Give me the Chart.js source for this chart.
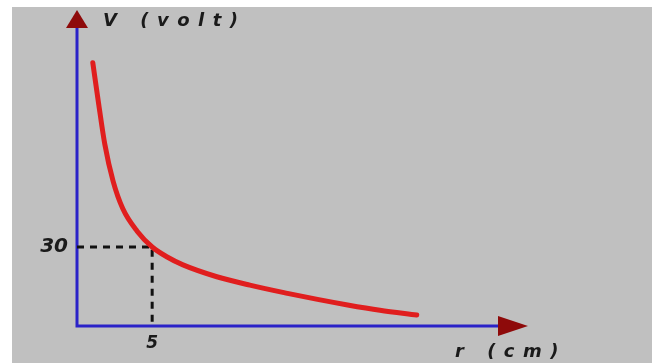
<!DOCTYPE html>
<html><head><meta charset="utf-8">
<script src="https://cdn.jsdelivr.net/npm/chart.js@4"></script>
<style>
html,body{margin:0;padding:0;background:#fff;width:657px;height:363px;overflow:hidden}
#wrap{position:absolute;left:12px;top:7px;width:640px;height:356px;background:#c0c0c0}
</style></head>
<body><div id="wrap"><canvas id="c"></canvas></div>
<script>
// Curve V(r)
const rValues = [1.05, 1.45, 1.85, 2.4, 3.05, 4.0, 5, 6, 7.05, 9.3, 11.5, 14, 16, 18, 20.15, 22.6];
const vValues = [100, 84, 69, 55, 44.5, 36, 30, 26.2, 23.2, 18.7, 15.5, 12.4, 10.1, 8.0, 6.0, 4.2];
// Marked point (r = 5 cm, V = 30 volt) with dashed guides
const guideR = [0, 5, 5];
const guideV = [30, 30, 0];
const xTicks = [5];
const yTicks = [30];
const xTitle = 'r (cm)';
const yTitle = 'V (volt)';

const curve = rValues.map((r, i) => ({x: r, y: vValues[i]}));
const guide = guideR.map((r, i) => ({x: r, y: guideV[i]}));

const axesPlugin = {
  id: 'axesArrows',
  beforeDatasetsDraw(chart) {
    const {ctx, chartArea: a} = chart;
    ctx.save();
    ctx.strokeStyle = '#2a22c8';
    ctx.lineWidth = 3;
    ctx.beginPath();
    ctx.moveTo(a.left, a.top + 16);
    ctx.lineTo(a.left, a.bottom);
    ctx.lineTo(a.right - 26, a.bottom);
    ctx.stroke();
    ctx.fillStyle = '#8e0a0a';
    ctx.beginPath();
    ctx.moveTo(a.left, a.top);
    ctx.lineTo(a.left - 11, a.top + 18);
    ctx.lineTo(a.left + 11, a.top + 18);
    ctx.closePath();
    ctx.fill();
    ctx.beginPath();
    ctx.moveTo(a.right, a.bottom);
    ctx.lineTo(a.right - 30, a.bottom - 10);
    ctx.lineTo(a.right - 30, a.bottom + 10);
    ctx.closePath();
    ctx.fill();
    ctx.restore();
  },
  afterDraw(chart) {
    const {ctx, chartArea: a} = chart;
    ctx.save();
    ctx.fillStyle = '#1a1a1a';
    ctx.font = 'italic bold 18px "DejaVu Sans"';
    ctx.letterSpacing = '8.5px';
    ctx.textBaseline = 'alphabetic';
    ctx.textAlign = 'left';
    ctx.fillText(yTitle, a.left + 26, a.top + 16);
    ctx.fillText(xTitle, a.right - 73, a.bottom + 31);
    ctx.restore();
  }
};

new Chart(document.getElementById('c'), {
  type: 'line',
  data: {
    datasets: [
      {data: curve, borderColor: '#e01e1e', borderWidth: 5, pointRadius: 0,
       cubicInterpolationMode: 'monotone', fill: false, borderCapStyle: 'round'},
      {data: guide, borderColor: '#111', borderWidth: 3, borderDash: [7, 6],
       pointRadius: 0, tension: 0, fill: false}
    ]
  },
  options: {
    responsive: true,
    maintainAspectRatio: false,
    animation: false,
    events: [],
    layout: {padding: {top: 3, right: 124, left: 0, bottom: 0}},
    plugins: {legend: {display: false}, tooltip: {enabled: false}},
    scales: {
      x: {
        type: 'linear', min: 0, max: 30,
        grid: {display: false, drawTicks: false}, border: {display: false},
        ticks: {padding: 7, color: '#1a1a1a', font: {family: 'DejaVu Sans', size: 17, style: 'italic', weight: 'bold'}},
        afterBuildTicks: s => { s.ticks = xTicks.map(v => ({value: v})); },
        afterFit: s => { s.height = 37; s.paddingLeft = 0; s.paddingRight = 0; }
      },
      y: {
        type: 'linear', min: 0, max: 120,
        grid: {display: false, drawTicks: false}, border: {display: false},
        ticks: {padding: 9, color: '#1a1a1a', font: {family: 'DejaVu Sans', size: 20, style: 'italic', weight: 'bold'}},
        afterBuildTicks: s => { s.ticks = yTicks.map(v => ({value: v})); },
        afterFit: s => { s.width = 65; s.paddingTop = 0; s.paddingBottom = 0; }
      }
    }
  },
  plugins: [axesPlugin]
});
</script>
</body></html>
